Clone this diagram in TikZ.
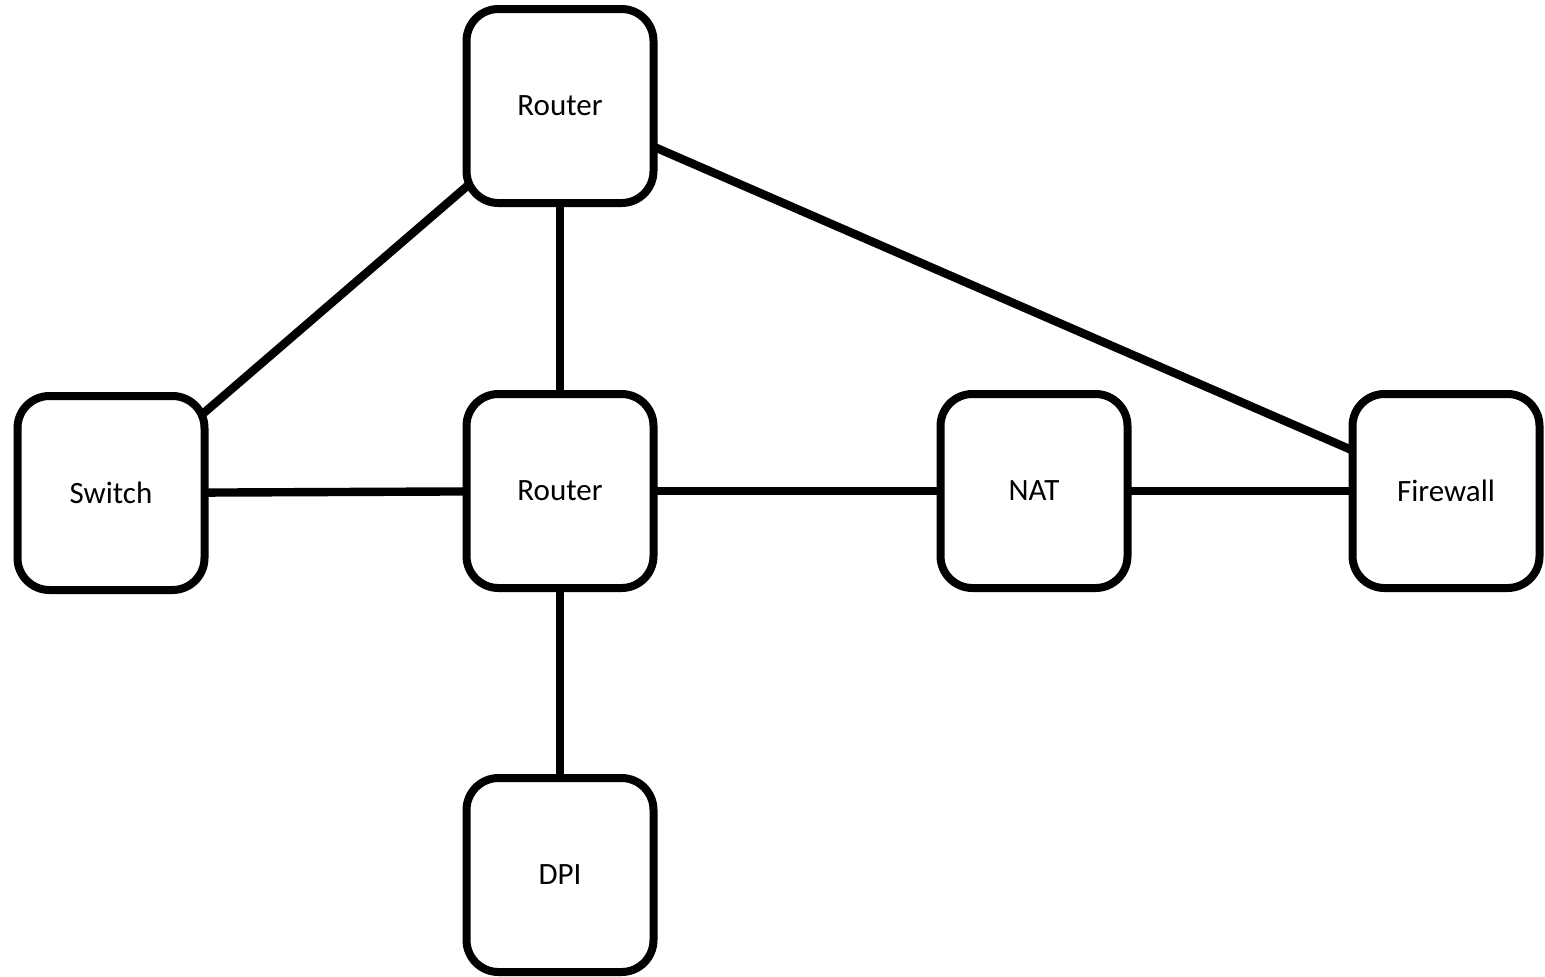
\documentclass[tikz,border=0pt]{standalone}
\usepackage{fontspec}
\setmainfont{Carlito}
\usetikzlibrary{backgrounds}
\begin{document}
\begin{tikzpicture}[x=0.5pt,y=-0.5pt,
  device/.style={draw=black, line width=4pt, rounded corners=16pt, fill=white,
    minimum width=93.5pt, minimum height=97pt, inner sep=0pt,
    font=\fontsize{15.5}{18}\selectfont},
  link/.style={draw=black, line width=4.2pt}]
  \useasboundingbox (0,0) rectangle (1545,976);
  % devices
  \node[device] (rtop) at (560,106) {Router};
  \node[device] (sw)   at (111,493) {Switch};
  \node[device] (rmid) at (560,491) {Router};
  \node[device] (nat)  at (1034,491) {NAT};
  \node[device] (fw)   at (1446,491) {Firewall};
  \node[device] (dpi)  at (560,875) {DPI};
  % links, drawn behind the devices
  \begin{scope}[on background layer]
    \draw[link] (rtop.center) -- (sw.center);
    \draw[link] (rtop.center) -- (rmid.center);
    \draw[link] (rtop.center) -- (fw.center);
    \draw[link] (sw.center) -- (rmid.center);
    \draw[link] (rmid.center) -- (nat.center);
    \draw[link] (nat.center) -- (fw.center);
    \draw[link] (rmid.center) -- (dpi.center);
  \end{scope}
\end{tikzpicture}
\end{document}
